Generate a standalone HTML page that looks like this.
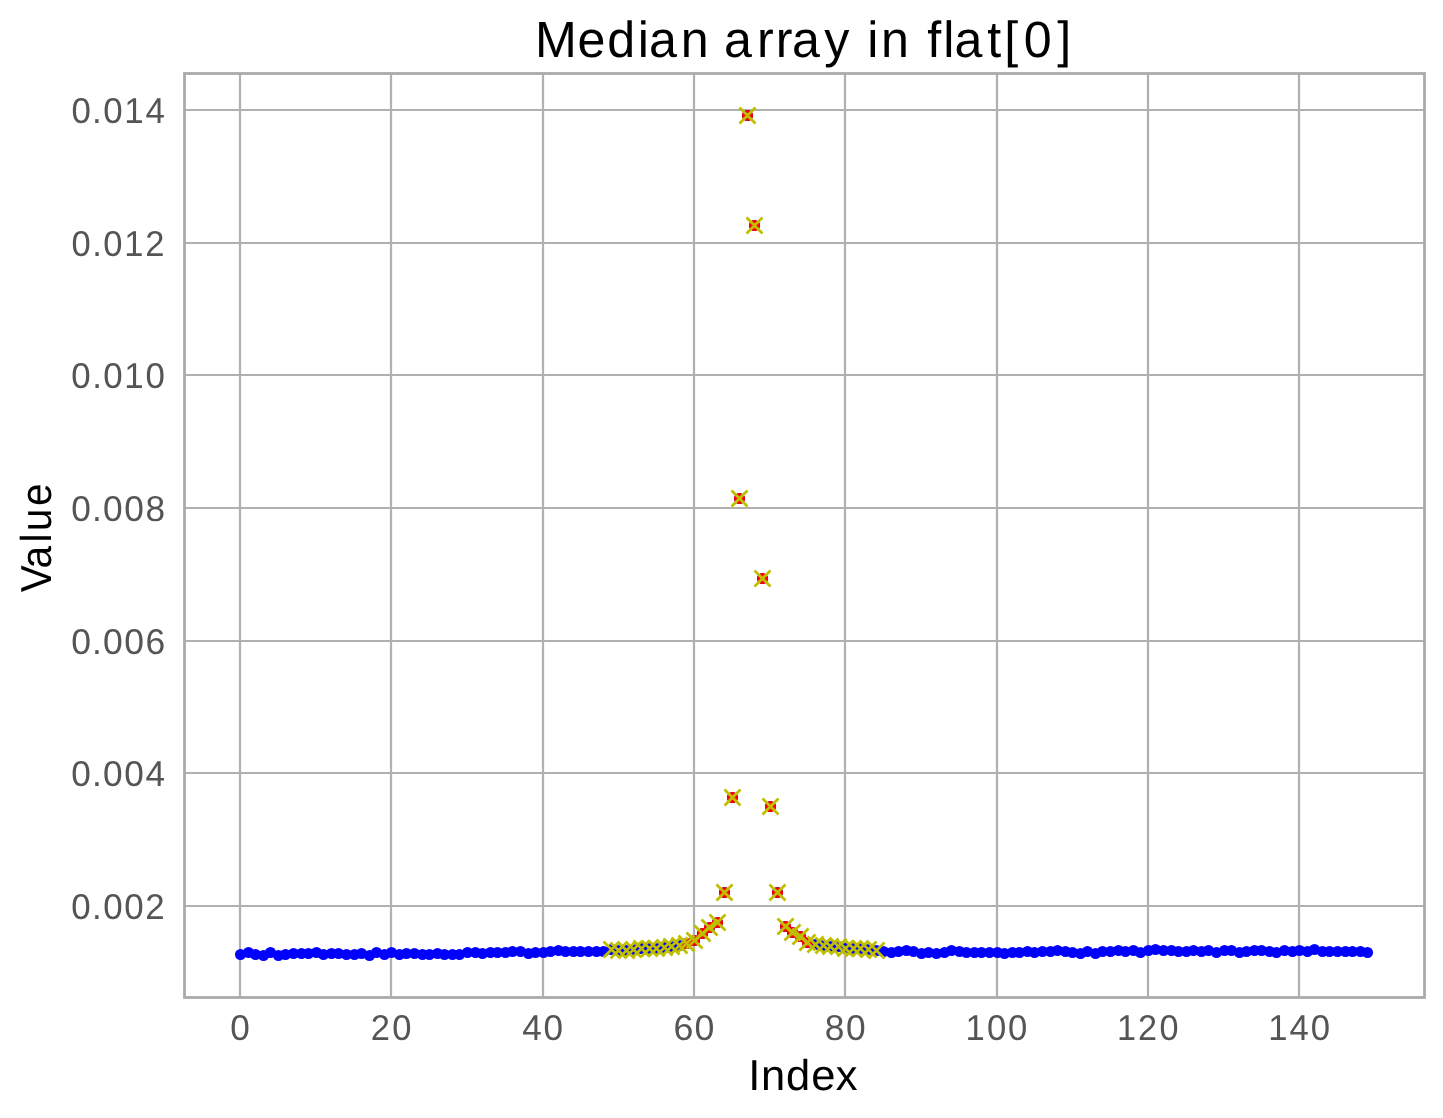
<!DOCTYPE html>
<html><head><meta charset="utf-8"><title>Median array in flat[0]</title>
<style>
html,body{margin:0;padding:0;background:#fff;}
body{width:1443px;height:1118px;overflow:hidden;}
svg{display:block;will-change:transform;}
text{font-family:"Liberation Sans",sans-serif;font-kerning:none;text-rendering:geometricPrecision;font-variant-ligatures:none;font-feature-settings:"liga" 0,"kern" 0;}
</style></head><body>
<svg width="1443" height="1118" viewBox="0 0 1443 1118">
<rect x="0" y="0" width="1443" height="1118" fill="#ffffff"/>
<g stroke="#b0b0b0" stroke-width="2.22" fill="none">
<line x1="240" y1="73.5" x2="240" y2="997.5"/>
<line x1="391" y1="73.5" x2="391" y2="997.5"/>
<line x1="543" y1="73.5" x2="543" y2="997.5"/>
<line x1="694" y1="73.5" x2="694" y2="997.5"/>
<line x1="845" y1="73.5" x2="845" y2="997.5"/>
<line x1="997" y1="73.5" x2="997" y2="997.5"/>
<line x1="1148" y1="73.5" x2="1148" y2="997.5"/>
<line x1="1299" y1="73.5" x2="1299" y2="997.5"/>
<line x1="184.5" y1="906" x2="1424.5" y2="906"/>
<line x1="184.5" y1="773" x2="1424.5" y2="773"/>
<line x1="184.5" y1="641" x2="1424.5" y2="641"/>
<line x1="184.5" y1="508" x2="1424.5" y2="508"/>
<line x1="184.5" y1="375" x2="1424.5" y2="375"/>
<line x1="184.5" y1="243" x2="1424.5" y2="243"/>
<line x1="184.5" y1="110" x2="1424.5" y2="110"/>
</g>
<g fill="#0000ff">
<circle cx="240.50" cy="954.50" r="5.55"/>
<circle cx="248.50" cy="952.50" r="5.55"/>
<circle cx="255.50" cy="954.50" r="5.55"/>
<circle cx="263.50" cy="955.50" r="5.55"/>
<circle cx="270.50" cy="952.50" r="5.55"/>
<circle cx="278.50" cy="955.50" r="5.55"/>
<circle cx="285.50" cy="954.50" r="5.55"/>
<circle cx="293.50" cy="953.50" r="5.55"/>
<circle cx="301.50" cy="953.50" r="5.55"/>
<circle cx="308.50" cy="953.50" r="5.55"/>
<circle cx="316.50" cy="952.50" r="5.55"/>
<circle cx="323.50" cy="954.50" r="5.55"/>
<circle cx="331.50" cy="953.50" r="5.55"/>
<circle cx="338.50" cy="953.50" r="5.55"/>
<circle cx="346.50" cy="954.50" r="5.55"/>
<circle cx="354.50" cy="954.50" r="5.55"/>
<circle cx="361.50" cy="953.50" r="5.55"/>
<circle cx="369.50" cy="955.50" r="5.55"/>
<circle cx="376.50" cy="952.50" r="5.55"/>
<circle cx="384.50" cy="954.50" r="5.55"/>
<circle cx="391.50" cy="952.50" r="5.55"/>
<circle cx="399.50" cy="954.50" r="5.55"/>
<circle cx="406.50" cy="953.50" r="5.55"/>
<circle cx="414.50" cy="953.50" r="5.55"/>
<circle cx="422.50" cy="954.50" r="5.55"/>
<circle cx="429.50" cy="954.50" r="5.55"/>
<circle cx="437.50" cy="953.50" r="5.55"/>
<circle cx="444.50" cy="954.50" r="5.55"/>
<circle cx="452.50" cy="954.50" r="5.55"/>
<circle cx="459.50" cy="954.50" r="5.55"/>
<circle cx="467.50" cy="952.50" r="5.55"/>
<circle cx="475.50" cy="952.50" r="5.55"/>
<circle cx="482.50" cy="953.50" r="5.55"/>
<circle cx="490.50" cy="952.50" r="5.55"/>
<circle cx="497.50" cy="952.50" r="5.55"/>
<circle cx="505.50" cy="952.50" r="5.55"/>
<circle cx="512.50" cy="951.50" r="5.55"/>
<circle cx="520.50" cy="951.50" r="5.55"/>
<circle cx="528.50" cy="953.50" r="5.55"/>
<circle cx="535.50" cy="952.50" r="5.55"/>
<circle cx="543.50" cy="952.50" r="5.55"/>
<circle cx="550.50" cy="951.50" r="5.55"/>
<circle cx="558.50" cy="950.50" r="5.55"/>
<circle cx="565.50" cy="951.50" r="5.55"/>
<circle cx="573.50" cy="951.50" r="5.55"/>
<circle cx="580.50" cy="951.50" r="5.55"/>
<circle cx="588.50" cy="951.50" r="5.55"/>
<circle cx="596.50" cy="951.50" r="5.55"/>
<circle cx="603.50" cy="951.50" r="5.55"/>
<circle cx="611.50" cy="949.50" r="5.55"/>
<circle cx="618.50" cy="950.50" r="5.55"/>
<circle cx="626.50" cy="950.50" r="5.55"/>
<circle cx="633.50" cy="949.50" r="5.55"/>
<circle cx="641.50" cy="948.50" r="5.55"/>
<circle cx="649.50" cy="948.50" r="5.55"/>
<circle cx="656.50" cy="948.50" r="5.55"/>
<circle cx="664.50" cy="947.50" r="5.55"/>
<circle cx="671.50" cy="946.50" r="5.55"/>
<circle cx="679.50" cy="945.50" r="5.55"/>
<circle cx="686.50" cy="943.50" r="5.55"/>
<circle cx="694.50" cy="940.50" r="5.55"/>
<circle cx="702.50" cy="933.50" r="5.55"/>
<circle cx="709.50" cy="927.50" r="5.55"/>
<circle cx="717.50" cy="922.50" r="5.55"/>
<circle cx="724.50" cy="892.50" r="5.55"/>
<circle cx="732.50" cy="797.50" r="5.55"/>
<circle cx="739.50" cy="498.50" r="5.55"/>
<circle cx="747.50" cy="115.50" r="5.55"/>
<circle cx="754.50" cy="225.50" r="5.55"/>
<circle cx="762.50" cy="578.50" r="5.55"/>
<circle cx="770.50" cy="806.50" r="5.55"/>
<circle cx="777.50" cy="892.50" r="5.55"/>
<circle cx="785.50" cy="926.50" r="5.55"/>
<circle cx="792.50" cy="932.50" r="5.55"/>
<circle cx="800.50" cy="936.50" r="5.55"/>
<circle cx="807.50" cy="942.50" r="5.55"/>
<circle cx="815.50" cy="944.50" r="5.55"/>
<circle cx="823.50" cy="945.50" r="5.55"/>
<circle cx="830.50" cy="946.50" r="5.55"/>
<circle cx="838.50" cy="946.50" r="5.55"/>
<circle cx="845.50" cy="948.50" r="5.55"/>
<circle cx="853.50" cy="948.50" r="5.55"/>
<circle cx="860.50" cy="948.50" r="5.55"/>
<circle cx="868.50" cy="949.50" r="5.55"/>
<circle cx="876.50" cy="950.50" r="5.55"/>
<circle cx="883.50" cy="951.50" r="5.55"/>
<circle cx="891.50" cy="952.50" r="5.55"/>
<circle cx="898.50" cy="951.50" r="5.55"/>
<circle cx="906.50" cy="950.50" r="5.55"/>
<circle cx="913.50" cy="951.50" r="5.55"/>
<circle cx="921.50" cy="953.50" r="5.55"/>
<circle cx="928.50" cy="952.50" r="5.55"/>
<circle cx="936.50" cy="953.50" r="5.55"/>
<circle cx="944.50" cy="952.50" r="5.55"/>
<circle cx="951.50" cy="950.50" r="5.55"/>
<circle cx="959.50" cy="951.50" r="5.55"/>
<circle cx="966.50" cy="952.50" r="5.55"/>
<circle cx="974.50" cy="952.50" r="5.55"/>
<circle cx="981.50" cy="952.50" r="5.55"/>
<circle cx="989.50" cy="952.50" r="5.55"/>
<circle cx="997.50" cy="952.50" r="5.55"/>
<circle cx="1004.50" cy="953.50" r="5.55"/>
<circle cx="1012.50" cy="952.50" r="5.55"/>
<circle cx="1019.50" cy="952.50" r="5.55"/>
<circle cx="1027.50" cy="951.50" r="5.55"/>
<circle cx="1034.50" cy="952.50" r="5.55"/>
<circle cx="1042.50" cy="951.50" r="5.55"/>
<circle cx="1050.50" cy="951.50" r="5.55"/>
<circle cx="1057.50" cy="950.50" r="5.55"/>
<circle cx="1065.50" cy="951.50" r="5.55"/>
<circle cx="1072.50" cy="952.50" r="5.55"/>
<circle cx="1080.50" cy="953.50" r="5.55"/>
<circle cx="1087.50" cy="951.50" r="5.55"/>
<circle cx="1095.50" cy="953.50" r="5.55"/>
<circle cx="1102.50" cy="951.50" r="5.55"/>
<circle cx="1110.50" cy="951.50" r="5.55"/>
<circle cx="1118.50" cy="950.50" r="5.55"/>
<circle cx="1125.50" cy="951.50" r="5.55"/>
<circle cx="1133.50" cy="950.50" r="5.55"/>
<circle cx="1140.50" cy="952.50" r="5.55"/>
<circle cx="1148.50" cy="950.50" r="5.55"/>
<circle cx="1155.50" cy="949.50" r="5.55"/>
<circle cx="1163.50" cy="950.50" r="5.55"/>
<circle cx="1171.50" cy="950.50" r="5.55"/>
<circle cx="1178.50" cy="951.50" r="5.55"/>
<circle cx="1186.50" cy="951.50" r="5.55"/>
<circle cx="1193.50" cy="950.50" r="5.55"/>
<circle cx="1201.50" cy="951.50" r="5.55"/>
<circle cx="1208.50" cy="950.50" r="5.55"/>
<circle cx="1216.50" cy="952.50" r="5.55"/>
<circle cx="1224.50" cy="950.50" r="5.55"/>
<circle cx="1231.50" cy="950.50" r="5.55"/>
<circle cx="1239.50" cy="952.50" r="5.55"/>
<circle cx="1246.50" cy="951.50" r="5.55"/>
<circle cx="1254.50" cy="950.50" r="5.55"/>
<circle cx="1261.50" cy="950.50" r="5.55"/>
<circle cx="1269.50" cy="951.50" r="5.55"/>
<circle cx="1276.50" cy="952.50" r="5.55"/>
<circle cx="1284.50" cy="950.50" r="5.55"/>
<circle cx="1292.50" cy="951.50" r="5.55"/>
<circle cx="1299.50" cy="950.50" r="5.55"/>
<circle cx="1307.50" cy="951.50" r="5.55"/>
<circle cx="1314.50" cy="949.50" r="5.55"/>
<circle cx="1322.50" cy="951.50" r="5.55"/>
<circle cx="1329.50" cy="951.50" r="5.55"/>
<circle cx="1337.50" cy="951.50" r="5.55"/>
<circle cx="1345.50" cy="951.50" r="5.55"/>
<circle cx="1352.50" cy="951.50" r="5.55"/>
<circle cx="1360.50" cy="951.50" r="5.55"/>
<circle cx="1367.50" cy="952.50" r="5.55"/>
</g>
<g fill="#ff0000">
<circle cx="686.50" cy="943.50" r="5.55"/>
<circle cx="694.50" cy="940.50" r="5.55"/>
<circle cx="702.50" cy="933.50" r="5.55"/>
<circle cx="709.50" cy="927.50" r="5.55"/>
<circle cx="717.50" cy="922.50" r="5.55"/>
<circle cx="724.50" cy="892.50" r="5.55"/>
<circle cx="732.50" cy="797.50" r="5.55"/>
<circle cx="739.50" cy="498.50" r="5.55"/>
<circle cx="747.50" cy="115.50" r="5.55"/>
<circle cx="754.50" cy="225.50" r="5.55"/>
<circle cx="762.50" cy="578.50" r="5.55"/>
<circle cx="770.50" cy="806.50" r="5.55"/>
<circle cx="777.50" cy="892.50" r="5.55"/>
<circle cx="785.50" cy="926.50" r="5.55"/>
<circle cx="792.50" cy="932.50" r="5.55"/>
<circle cx="800.50" cy="936.50" r="5.55"/>
<circle cx="807.50" cy="942.50" r="5.55"/>
</g>
<path d="M603.50 941.50L619.50 957.50M603.50 957.50L619.50 941.50M610.50 942.50L626.50 958.50M610.50 958.50L626.50 942.50M618.50 942.50L634.50 958.50M618.50 958.50L634.50 942.50M625.50 941.50L641.50 957.50M625.50 957.50L641.50 941.50M633.50 940.50L649.50 956.50M633.50 956.50L649.50 940.50M641.50 940.50L657.50 956.50M641.50 956.50L657.50 940.50M648.50 940.50L664.50 956.50M648.50 956.50L664.50 940.50M656.50 939.50L672.50 955.50M656.50 955.50L672.50 939.50M663.50 938.50L679.50 954.50M663.50 954.50L679.50 938.50M671.50 937.50L687.50 953.50M671.50 953.50L687.50 937.50M678.50 935.50L694.50 951.50M678.50 951.50L694.50 935.50M686.50 932.50L702.50 948.50M686.50 948.50L702.50 932.50M694.50 925.50L710.50 941.50M694.50 941.50L710.50 925.50M701.50 919.50L717.50 935.50M701.50 935.50L717.50 919.50M709.50 914.50L725.50 930.50M709.50 930.50L725.50 914.50M716.50 884.50L732.50 900.50M716.50 900.50L732.50 884.50M724.50 789.50L740.50 805.50M724.50 805.50L740.50 789.50M731.50 490.50L747.50 506.50M731.50 506.50L747.50 490.50M739.50 107.50L755.50 123.50M739.50 123.50L755.50 107.50M746.50 217.50L762.50 233.50M746.50 233.50L762.50 217.50M754.50 570.50L770.50 586.50M754.50 586.50L770.50 570.50M762.50 798.50L778.50 814.50M762.50 814.50L778.50 798.50M769.50 884.50L785.50 900.50M769.50 900.50L785.50 884.50M777.50 918.50L793.50 934.50M777.50 934.50L793.50 918.50M784.50 924.50L800.50 940.50M784.50 940.50L800.50 924.50M792.50 928.50L808.50 944.50M792.50 944.50L808.50 928.50M799.50 934.50L815.50 950.50M799.50 950.50L815.50 934.50M807.50 936.50L823.50 952.50M807.50 952.50L823.50 936.50M815.50 937.50L831.50 953.50M815.50 953.50L831.50 937.50M822.50 938.50L838.50 954.50M822.50 954.50L838.50 938.50M830.50 938.50L846.50 954.50M830.50 954.50L846.50 938.50M837.50 940.50L853.50 956.50M837.50 956.50L853.50 940.50M845.50 940.50L861.50 956.50M845.50 956.50L861.50 940.50M852.50 940.50L868.50 956.50M852.50 956.50L868.50 940.50M860.50 941.50L876.50 957.50M860.50 957.50L876.50 941.50M868.50 942.50L884.50 958.50M868.50 958.50L884.50 942.50" stroke="#bfbf00" stroke-width="2.78" fill="none"/>
<rect x="184.5" y="73.5" width="1240.0" height="924.0" fill="none" stroke="#aaaaaa" stroke-width="2.78"/>
<text id="title" transform="scale(0.9864 1)" x="542.43 585.53 615.55 646.57 657.89 690.15 718.46 734.02 767.38 786.53 803.00 835.55 861.00 879.29 893.05 921.36 940.11 956.23 967.57 1000.80 1018.07 1037.84 1071.80" y="56.90" font-size="50.90" fill="#000">Median array in flat[0]</text>
<text id="yt1" transform="scale(0.9719 1)" x="73.43 94.78 106.15 127.98 149.34" y="918.85" font-size="35.90" fill="#555555">0.002</text>
<text id="yt2" transform="scale(0.9800 1)" x="72.74 93.95 105.19 126.83 148.47" y="786.18" font-size="35.90" fill="#555555">0.004</text>
<text id="yt3" transform="scale(0.9879 1)" x="72.08 93.16 104.27 125.74 147.20" y="653.52" font-size="35.90" fill="#555555">0.006</text>
<text id="yt4" transform="scale(0.9825 1)" x="72.53 93.70 104.90 126.49 148.07" y="520.85" font-size="35.90" fill="#555555">0.008</text>
<text id="yt5" transform="scale(0.9704 1)" x="73.56 94.94 106.34 128.01 150.05" y="388.19" font-size="35.90" fill="#555555">0.010</text>
<text id="yt6" transform="scale(0.9619 1)" x="74.29 95.81 107.36 129.22 150.99" y="255.52" font-size="35.90" fill="#555555">0.012</text>
<text id="yt7" transform="scale(0.9705 1)" x="73.55 94.92 106.32 127.99 150.02" y="122.85" font-size="35.90" fill="#555555">0.014</text>
<text id="xt0" transform="scale(0.9788 1)" x="235.26" y="1039.70" font-size="35.90" fill="#555555">0</text>
<text id="xt20" transform="scale(0.9615 1)" x="385.53 408.05" y="1039.70" font-size="35.90" fill="#555555">20</text>
<text id="xt40" transform="scale(0.9788 1)" x="533.57 555.24" y="1039.70" font-size="35.90" fill="#555555">40</text>
<text id="xt60" transform="scale(0.9956 1)" x="676.40 697.70" y="1039.70" font-size="35.90" fill="#555555">60</text>
<text id="xt80" transform="scale(0.9840 1)" x="838.23 859.78" y="1039.70" font-size="35.90" fill="#555555">80</text>
<text id="xt100" transform="scale(0.9651 1)" x="1000.47 1022.62 1044.59" y="1039.70" font-size="35.90" fill="#555555">100</text>
<text id="xt120" transform="scale(0.9531 1)" x="1171.97 1193.94 1216.65" y="1039.70" font-size="35.90" fill="#555555">120</text>
<text id="xt140" transform="scale(0.9654 1)" x="1313.62 1335.76 1357.74" y="1039.70" font-size="35.90" fill="#555555">140</text>
<text id="xlabel" transform="scale(1.0046 1)" x="744.88 757.43 782.37 807.57 831.94" y="1089.80" font-size="43.30" fill="#000">Index</text>
<text id="ylabel" transform="translate(50.95 0) rotate(-90) scale(0.9370 1)" x="-632.03 -606.83 -579.01 -566.87 -540.04" y="0.00" font-size="43.30" fill="#000">Value</text>
</svg>
</body></html>
